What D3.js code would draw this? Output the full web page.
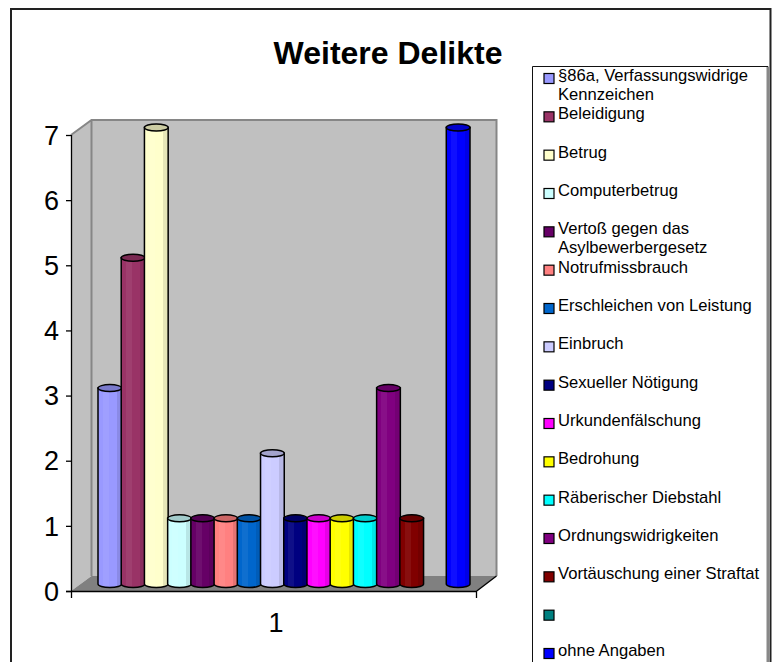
<!DOCTYPE html>
<html><head><meta charset="utf-8"><script src="https://cdn.jsdelivr.net/npm/d3@7"></script>
<style>html,body{margin:0;padding:0;background:#fff}svg{display:block}text{font-family:"Liberation Sans",Arial,sans-serif}</style></head>
<body><div id="c"></div>
<script>
const categories=["§86a, Verfassungswidrige|Kennzeichen","Beleidigung","Betrug","Computerbetrug","Vertoß gegen das|Asylbewerbergesetz","Notrufmissbrauch","Erschleichen von Leistung","Einbruch","Sexueller Nötigung","Urkundenfälschung","Bedrohung","Räberischer Diebstahl","Ordnungswidrigkeiten","Vortäuschung einer Straftat"," ","ohne Angaben"];
const values=[3,5,7,1,1,1,1,2,1,1,1,1,3,1,0,7];
const colors=["#9999FF","#993366","#FFFFCC","#CCFFFF","#660066","#FF8080","#0066CC","#CCCCFF","#000080","#FF00FF","#FFFF00","#00FFFF","#800080","#800000","#008080","#0000FF"];
const yTicks=[0,1,2,3,4,5,6,7];
const title="Weitere Delikte", xLabel="1";
const W=773,H=662;
const svg=d3.select("#c").append("svg").attr("width",W).attr("height",H);
const defs=svg.append("defs");
const y=d3.scaleLinear().domain([0,7]).range([591,135]);
const x=d3.scaleBand().domain(d3.range(16)).range([97.5,469]).paddingInner(0).paddingOuter(0);
const dx=20.5,dy=-15;
const legendY=d3.scaleLinear().domain([0,15]).range([78,653]);
// frame
svg.append("path").attr("d",`M11,${H}V9H770.5V${H}`).attr("fill","none").attr("stroke","#222").attr("stroke-width",2);
// walls
const x0=71,x1=476,yb=y(0),yt=y(7);
svg.append("path").attr("d",`M${x0},${yb}L${x0+dx},${yb+dy}V${yt+dy}L${x0},${yt}Z`).attr("fill","#c0c0c0");
svg.append("rect").attr("x",x0+dx).attr("y",yt+dy).attr("width",x1-x0).attr("height",yb-yt).attr("fill","#c0c0c0");
svg.append("path").attr("d",`M${x0},${yb}H${x1}L${x1+dx},${yb+dy}H${x0+dx}Z`).attr("fill","#808080");
svg.append("path").attr("d",`M${x0},${yt}L${x0+dx},${yt+dy}H${x1+dx}V${yb+dy}M${x0+dx},${yt+dy}V${yb+dy}`).attr("fill","none").attr("stroke","#868686").attr("stroke-width",2);
// axes
const axis=svg.append("g").attr("stroke","#000").attr("fill","none").attr("stroke-width",1.3);
axis.append("path").attr("d",`M${x0+.5},${yt}V${yb+7}M${x0-5},${yb+.5}H${x1}L${x1+dx},${yb+dy}M${x1+.5},${yb}V${yb+7}`);
axis.selectAll("line").data(yTicks).join("line").attr("x1",x0-5).attr("x2",x0).attr("y1",d=>y(d)+.5).attr("y2",d=>y(d)+.5);
svg.selectAll(".yl").data(yTicks).join("text").attr("x",59).attr("y",d=>y(d)).attr("dy","0.36em").attr("text-anchor","end").attr("font-size",27).attr("fill","#000").text(d=>d);
svg.append("text").attr("x",276).attr("y",632).attr("text-anchor","middle").attr("font-size",27).text(xLabel);
svg.append("text").attr("x",388).attr("y",64).attr("text-anchor","middle").attr("font-size",32).attr("font-weight","bold").text(title);
// bars
colors.forEach((c,i)=>{
 const g=defs.append("linearGradient").attr("id","g"+i);
 const base=d3.color(c), lite=d3.interpolateRgb(c,"#fff")(.06), dark=d3.interpolateRgb(c,"#000")(.1);
 [[0,base],[.2,base],[.2,lite],[.45,lite],[.45,base],[.78,base],[.78,dark],[1,dark]].forEach(([o,col])=>g.append("stop").attr("offset",o).attr("stop-color",col));
});
const ry=3.5, off=7.5;
const bars=svg.append("g").selectAll("g").data(values.map((v,i)=>({v,i})).filter(d=>d.v>0)).join("g");
bars.each(function(d){
 const g=d3.select(this),l=x(d.i)+.5,w=x.bandwidth()+.5,r=l+w,t=y(d.v)-off,b=y(0)-off+.5,rx=w/2;
 g.append("path").attr("d",`M${l},${t}V${b}A${rx},${ry} 0 0 0 ${r},${b}V${t}Z`).attr("fill",`url(#g${d.i})`).attr("stroke","#000").attr("stroke-width",1.5);
 g.append("ellipse").attr("cx",l+rx).attr("cy",t).attr("rx",rx).attr("ry",ry).attr("fill",d3.interpolateRgb(colors[d.i],"#000")(.2)).attr("stroke","#000").attr("stroke-width",1.5);
});
// legend
svg.append("path").attr("d",`M532.5,${H}V66.5H768V${H}`).attr("fill","#fff").attr("stroke","#111");
svg.append("path").attr("d",`M767.5,67V${H}`).attr("stroke","#888").attr("stroke-width",2);
const lg=svg.append("g").selectAll("g").data(categories).join("g").attr("transform",(d,i)=>`translate(0,${legendY(i)})`);
lg.append("rect").attr("x",544).attr("y",-4.5).attr("width",10).attr("height",10).attr("fill",(d,i)=>colors[i]).attr("stroke","#000").attr("stroke-width",1.2);
lg.append("text").attr("x",558).attr("font-size",16.6).attr("fill","#000").each(function(d){
 const p=d.split("|");
 d3.select(this).selectAll("tspan").data(p).join("tspan").attr("x",558).attr("y",(_,k)=>k*19+3).text(t=>t);
});
</script></body></html>
